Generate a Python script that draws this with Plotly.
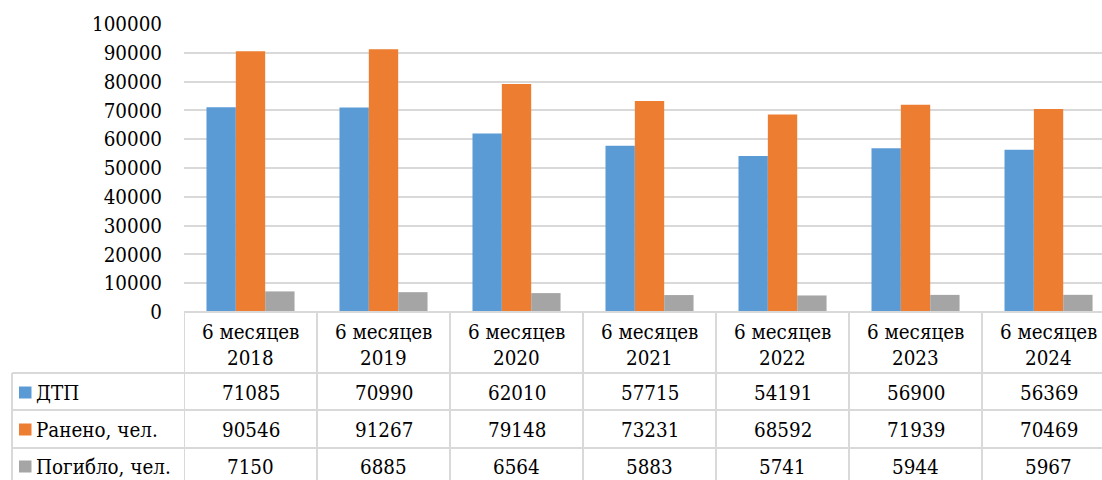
import plotly.graph_objects as go

# Road traffic accident statistics, first half of each year
periods = ["6 месяцев", "6 месяцев", "6 месяцев", "6 месяцев",
           "6 месяцев", "6 месяцев", "6 месяцев"]
years = ["2018", "2019", "2020", "2021", "2022", "2023", "2024"]

series_names = ["ДТП", "Ранено, чел.", "Погибло, чел."]
dtp = [71085, 70990, 62010, 57715, 54191, 56900, 56369]
injured = [90546, 91267, 79148, 73231, 68592, 71939, 70469]
killed = [7150, 6885, 6564, 5883, 5741, 5944, 5967]

colors = ["#5b9bd5", "#ed7d31", "#a5a5a5"]
y_ticks = [0, 10000, 20000, 30000, 40000, 50000, 60000, 70000, 80000, 90000, 100000]

W, H = 1102, 480
PLOT_L, PLOT_T, PLOT_B = 184, 24, 312
FONT = "DejaVu Serif Condensed"
FS = 20.4
GRID = "#d9d9d9"


def px(xpix):
    return (xpix - PLOT_L) / (W - PLOT_L)


def py(ypix):
    return (PLOT_B - ypix) / (PLOT_B - PLOT_T)


x_idx = list(range(len(years)))
values = [dtp, injured, killed]

fig = go.Figure()
for name, vals, col in zip(series_names, values, colors):
    fig.add_trace(go.Bar(x=x_idx, y=vals, name=name, marker_color=col,
                         marker_line_width=0))

shapes = []
annotations = []

# data-table grid: horizontal row borders
row_lines = [373, 410, 448, 486]
shapes.append(dict(type="line", xref="paper", yref="paper",
                   x0=0, x1=px(W + 20), y0=0, y1=0,
                   line=dict(color=GRID, width=2)))
for yl in row_lines:
    shapes.append(dict(type="line", xref="paper", yref="paper",
                       x0=px(12), x1=px(W + 20), y0=py(yl), y1=py(yl),
                       line=dict(color=GRID, width=2)))
# vertical borders between categories
for i in range(-1, len(years)):
    shapes.append(dict(type="line", xref="x", yref="paper",
                       x0=i + 0.5, x1=i + 0.5, y0=0, y1=py(490),
                       line=dict(color=GRID, width=2)))
# left border of the legend column
shapes.append(dict(type="line", xref="paper", yref="paper",
                   x0=px(12), x1=px(12), y0=py(373), y1=py(490),
                   line=dict(color=GRID, width=2)))

txt_font = dict(family=FONT, size=FS, color="#000")

# category header text
for i, (p, yr) in enumerate(zip(periods, years)):
    annotations.append(dict(x=i, y=py(331.5), xref="x", yref="paper",
                            text=p, showarrow=False, xanchor="center",
                            yanchor="middle", font=txt_font))
    annotations.append(dict(x=i, y=py(358), xref="x", yref="paper",
                            text=yr, showarrow=False, xanchor="center",
                            yanchor="middle", font=txt_font))

# series rows: legend key, name and values
row_centers = [392.5, 429.5, 466.5]
for r, (name, vals, col) in enumerate(zip(series_names, values, colors)):
    yc = row_centers[r]
    shapes.append(dict(type="rect", xref="paper", yref="paper",
                       x0=px(19), x1=px(31.5), y0=py(yc - 6), y1=py(yc + 6),
                       fillcolor=col, line_width=0))
    annotations.append(dict(x=px(34), y=py(yc), xref="paper", yref="paper",
                            text=name, showarrow=False, xanchor="left",
                            yanchor="middle", font=txt_font))
    for i, v in enumerate(vals):
        annotations.append(dict(x=i, y=py(yc), xref="x", yref="paper",
                                text=str(v), showarrow=False, xanchor="center",
                                yanchor="middle", font=txt_font))

fig.update_layout(
    width=W, height=H,
    margin=dict(l=PLOT_L, r=0, t=PLOT_T, b=H - PLOT_B, pad=0),
    paper_bgcolor="white", plot_bgcolor="white",
    font=dict(family=FONT, size=FS, color="#000"),
    barmode="group", bargap=0.338, bargroupgap=0,
    showlegend=False,
    shapes=shapes, annotations=annotations,
    xaxis=dict(range=[-0.5, 6.402], showticklabels=False, showgrid=False,
               zeroline=False, showline=False, ticks="", fixedrange=True),
    yaxis=dict(range=[0, 100000], tickvals=y_ticks,
               ticktext=[str(t) for t in y_ticks],
               showgrid=True, gridcolor=GRID, gridwidth=2,
               zeroline=False, showline=False, ticks="",
               ticklabelstandoff=21,
               tickfont=txt_font),
)

fig.write_html("out.html")
